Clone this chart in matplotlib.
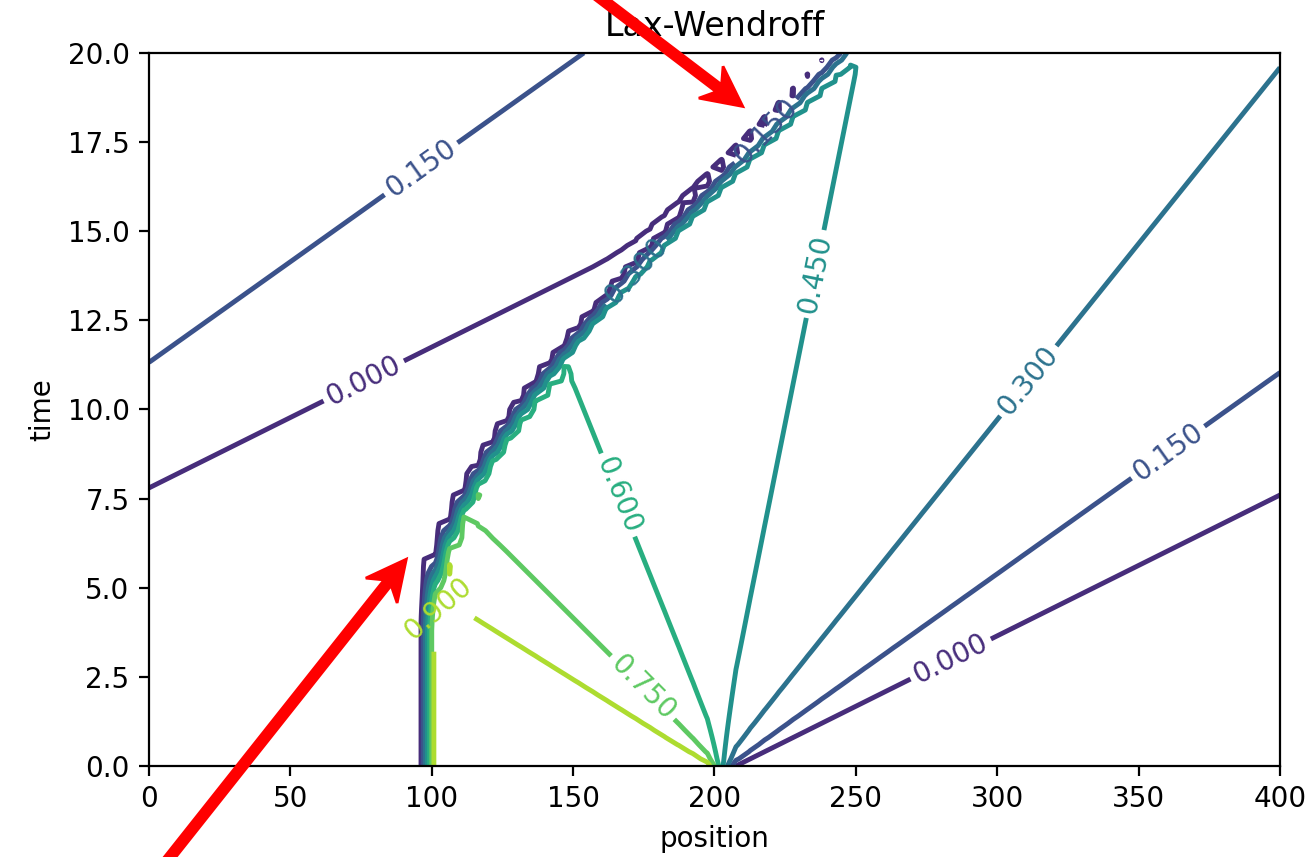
import numpy as np
import matplotlib
matplotlib.use("Agg")
import matplotlib.pyplot as plt
from matplotlib.patches import FancyArrow

# traffic at a stop light, periodic road of length L
L = 400.0
N = 80            # grid points
v_max = 25.0      # max car speed
rho_max = 1.0
tau = 0.2         # time step
nstep = 100

levels = [-0.15, 0.0, 0.15, 0.30, 0.45, 0.60, 0.75, 0.90, 1.05]

# contour labels: level and (position, time)
label_levels = [0.15, 0.0, 0.45, 0.30, 0.15, 0.0, 0.60, 0.75, 0.90, 0.30, 0.15]
label_pos = [(93, 16.9), (75, 11.0), (235, 13.9), (310, 11.0), (360, 9.1),
             (284, 3.1), (166, 7.7), (176, 2.3), (105, 4.4), (169, 14.1), (218, 17.9)]

# red arrows: (tail, tip) in data coords
arrows = [((147, 22.3), (210, 18.5)), ((0, -3.3), (91, 5.8))]

h = L / N
coeff = tau / (2 * h)
coefflw = tau ** 2 / (2 * h ** 2)

# square pulse of cars, half density at the light
rho = np.zeros(N)
rho[N // 4:N // 2] = rho_max
rho[N // 2] = rho_max / 2

ip = np.roll(np.arange(N), -1)
im = np.roll(np.arange(N), 1)

rplot = [rho.copy()]
for istep in range(nstep):
    Flow = rho * (v_max * (1 - rho / rho_max))
    cp = v_max * (1 - (rho[ip] + rho) / rho_max)
    cm = v_max * (1 - (rho + rho[im]) / rho_max)
    rho = rho - coeff * (Flow[ip] - Flow[im]) + coefflw * (
        cp * (Flow[ip] - Flow) - cm * (Flow - Flow[im]))
    rplot.append(rho.copy())
rplot = np.round(np.array(rplot), 10)  # drop round-off noise around 0

x = np.linspace(0, L, N)
t = tau * np.arange(nstep + 1)

fig = plt.figure(figsize=(6.57, 4.285), dpi=200)
ax = fig.add_axes([0.1134, 0.1062, 0.8607, 0.832])
cs = ax.contour(x, t, rplot, levels=levels, linewidths=1.75)
ax.set_xlim(0, 400)
ax.set_ylim(0, 20)

# snap each wanted label spot onto its own level's line
spots = []
for lev, pos in zip(label_levels, label_pos):
    i = int(np.argmin(np.abs(np.array(levels) - lev)))
    pts = np.vstack([s for s in cs.allsegs[i] if len(s)])
    d = ax.transData.transform(pts) - ax.transData.transform(pos)
    spots.append(tuple(pts[np.argmin((d ** 2).sum(axis=1))]))
ax.clabel(cs, inline=True, manual=spots, fmt='%1.3f')

ax.set_title("Lax-Wendroff")
ax.set_xlabel("position")
ax.set_ylabel("time")

# arrows drawn in inches so the head is not squashed by the axes aspect
to_in = ax.transData + fig.dpi_scale_trans.inverted()
for tail, tip in arrows:
    x0, y0 = to_in.transform(tail)
    x1, y1 = to_in.transform(tip)
    arr = FancyArrow(x0, y0, x1 - x0, y1 - y0, width=0.045, head_width=0.2,
                     head_length=0.2, overhang=0.25, length_includes_head=True,
                     color='red', transform=fig.dpi_scale_trans, clip_on=False)
    fig.patches.append(arr)

fig.savefig("out.png", dpi=200)
